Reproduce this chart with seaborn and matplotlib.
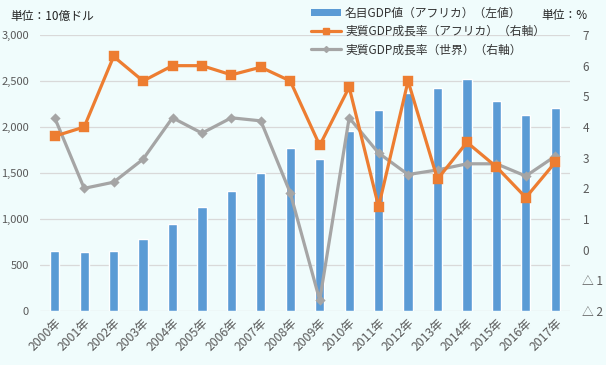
import matplotlib
matplotlib.use("Agg")
import matplotlib.pyplot as plt
import seaborn as sns
import pandas as pd
from matplotlib.lines import Line2D
from matplotlib.patches import Patch
from matplotlib.ticker import FuncFormatter

years = [f"{y}年" for y in range(2000, 2018)]
gdp_nominal = [650, 640, 650, 780, 950, 1130, 1300, 1505, 1775, 1655,
               1960, 2185, 2375, 2425, 2525, 2285, 2130, 2205]
growth_africa = [3.7, 4.0, 6.3, 5.5, 6.0, 6.0, 5.7, 5.95, 5.5, 3.4,
                 5.3, 1.4, 5.5, 2.3, 3.5, 2.7, 1.7, 2.85]
growth_world = [4.3, 2.0, 2.2, 2.95, 4.3, 3.8, 4.3, 4.2, 1.85, -1.65,
                4.3, 3.15, 2.45, 2.6, 2.8, 2.8, 2.4, 3.05]
left_ticks = [0, 500, 1000, 1500, 2000, 2500, 3000]
right_ticks = [-2, -1, 0, 1, 2, 3, 4, 5, 6, 7]
legend_labels = ["名目GDP値（アフリカ）（左値）", "実質GDP成長率（アフリカ）（右軸）", "実質GDP成長率（世界）（右軸）"]

sns.set_theme(style="white")
plt.rcParams["font.family"] = ["Noto Sans CJK JP", "DejaVu Sans"]

bg = "#F0FCFC"
blue = "#5B9BD5"
orange = "#ED7D31"
gray = "#A5A5A5"
tick_color = "#595959"

df = pd.DataFrame({"year": years, "gdp": gdp_nominal,
                   "africa": growth_africa, "world": growth_world})

fig = plt.figure(figsize=(6.06, 3.65), dpi=100, facecolor=bg)
ax = fig.add_axes([40/606, 1-311/365, 530/606, 276/365])
ax.set_facecolor(bg)

sns.barplot(data=df, x="year", y="gdp", ax=ax, color=blue, width=0.31,
            saturation=1, zorder=2)
ax.set_ylim(0, 3000)
ax.set_yticks(left_ticks)
ax.yaxis.set_major_formatter(FuncFormatter(lambda v, p: f"{int(v):,}"))
ax.grid(axis="y", color="#D9D9D9", linewidth=0.9, zorder=0)
ax.set_axisbelow(True)
ax.set_xlabel("")
ax.set_ylabel("")
for s in ax.spines.values():
    s.set_visible(False)
ax.tick_params(axis="y", colors=tick_color, labelsize=8, length=0, pad=8)
ax.tick_params(axis="x", colors=tick_color, labelsize=8.8, length=0, pad=4)
for lab in ax.get_xticklabels():
    lab.set_rotation(45)
    lab.set_ha("right")
    lab.set_rotation_mode("anchor")

ax2 = ax.twinx()
sns.pointplot(data=df, x="year", y="world", ax=ax2, color=gray, marker="D",
              markersize=3.5, linewidth=2.3, errorbar=None, zorder=3)
sns.pointplot(data=df, x="year", y="africa", ax=ax2, color=orange, marker="s",
              markersize=6.3, linewidth=2.3, errorbar=None, zorder=4)
ax2.set_ylim(-2, 7)
ax2.set_yticks(right_ticks)
ax2.set_yticklabels([f"△ {abs(t)}" if t < 0 else f"{t}" for t in right_ticks])
ax2.set_ylabel("")
ax2.grid(False)
for s in ax2.spines.values():
    s.set_visible(False)
ax2.tick_params(axis="y", colors=tick_color, labelsize=8.5, length=0, pad=9)
ax.set_xlim(-0.5, len(years) - 0.5)

handles = [
    Patch(facecolor=blue, edgecolor="none"),
    Line2D([], [], color=orange, linewidth=2.3, marker="s", markersize=5),
    Line2D([], [], color=gray, linewidth=2.3, marker="D", markersize=3),
]
fig.legend(handles, legend_labels, loc="upper left",
           bbox_to_anchor=(306/606, 1-2/365), frameon=False,
           fontsize=8.5, handlelength=2.6, handleheight=0.6,
           labelspacing=0.45, borderaxespad=0, handletextpad=0.3,
           labelcolor="#333333")

fig.text(10/606, 1-16/365, "単位：10億ドル", fontsize=8.5, color="#222222",
         va="center", ha="left")
fig.text(541/606, 1-16/365, "単位：%", fontsize=8.5, color="#222222",
         va="center", ha="left")

fig.savefig("out.png", dpi=100, facecolor=bg)
